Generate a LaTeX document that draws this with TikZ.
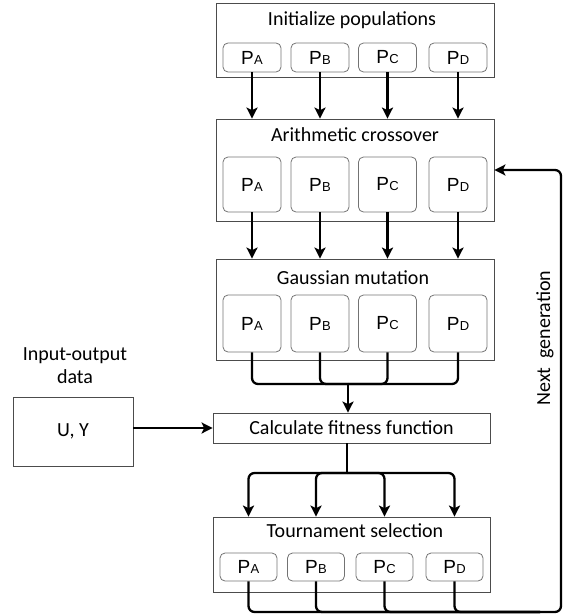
\documentclass[tikz,border=0pt]{standalone}
\usepackage{fontspec}
\setmainfont{Carlito}
\newfontfamily\pfont{Liberation Sans}
\usetikzlibrary{positioning,calc,arrows.meta}
\tikzset{stage/.style={draw=black!70,line width=0.8pt,inner sep=0pt},
  pbox/.style={draw=black!55,rounded corners=5pt,line width=0.8pt,inner sep=0pt,minimum width=58pt},
  ttl/.style={font=\fontsize{20}{23}\selectfont,inner sep=0pt},
  arr/.style={line width=2.3pt,-{Stealth[length=11pt,width=11pt,inset=2.5pt]}},
  lnk/.style={line width=2.3pt,rounded corners=6pt}}
\newcommand{\plab}[1]{{\pfont\fontsize{19}{19}\selectfont P\kern0.3pt{\fontsize{13}{13}\selectfont #1}}}

\begin{document}
\begin{tikzpicture}[x=1pt,y=-1pt]
  \useasboundingbox (0,0) rectangle (564,615);

  % the stages
  \node (init) [stage,minimum width=278pt,minimum height=74pt] at (355,40) {};
  \node (cross) [stage,minimum width=278pt,minimum height=102pt] at (355,170) {};
  \node (mut) [stage,minimum width=278pt,minimum height=101pt] at (355,309.5) {};
  \node (fit) [stage,ttl,minimum width=277pt,minimum height=30pt] at (351.5,428) {Calculate fitness function};
  \node (tour) [stage,minimum width=277pt,minimum height=75pt] at (351.5,554.5) {};

  \node (init-t) [ttl] at (352,20) {Initialize populations};
  \node (cross-t) [ttl] at (355,135) {Arithmetic crossover};
  \node (mut-t) [ttl] at (353,278) {Gaussian mutation};
  \node (tour-t) [ttl] at (355,531) {Tournament selection};

  % merge and split points
  \coordinate (merge) at (348,384);
  \coordinate (split) at (347,473);
  \coordinate (back) at (561,612);
  \coordinate (back-l) at (540,612);

  % populations
  \foreach \j/\x in {A/252,B/320,C/387.5,D/458}
  {\node (p1-\j) [pbox,minimum height=29pt] at (\x,57.5) {\plab{\j}};
    \node (p2-\j) [pbox,minimum height=55pt] at (\x,184.5) {\plab{\j}};
    \node (p3-\j) [pbox,minimum height=57pt] at (\x,323.5) {\plab{\j}};
    \draw[arr] (p1-\j) -- (p1-\j |- cross.north);
    \draw[arr] (p2-\j) -- (p2-\j |- mut.north);
    \draw[lnk] (p3-\j.south) |- (merge);}

  \draw[arr] (merge) -- (merge |- fit.north);
  \draw[lnk] (split |- fit.south) -- (split);

  \foreach \j/\x in {A/248.5,B/316,C/384.5,D/454.5}
  {\node (p4-\j) [pbox,minimum width=57pt,minimum height=28pt] at (\x,567) {\plab{\j}};
    \draw[arr,rounded corners=6pt] (split) -| (p4-\j |- tour.north);}

  % back to crossover
  \foreach \j in {A,B,C}
  {\draw[lnk] (p4-\j.south) |- (back-l);}
  \draw[lnk,arr] (p4-D.south) |- (back) |- (cross.east);
  \node (next) [ttl,rotate=90] at (545,338) {Next\ \ generation};

  % input data
  \node (io) [ttl,align=center] at (75,366) {Input-output\\data};
  \node (uy) [stage,ttl,minimum width=120pt,minimum height=69pt] at (73,431.5) {U, Y};
  \draw[arr] (fit.west -| uy.east) -- (fit.west);
\end{tikzpicture}
\end{document}
